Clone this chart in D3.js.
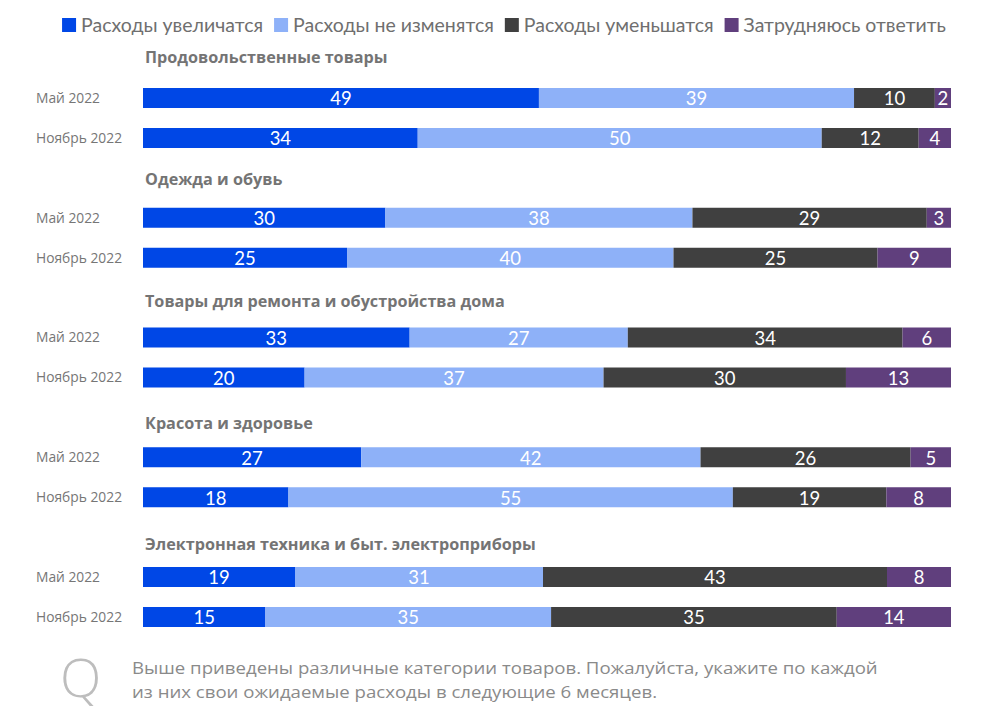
<!DOCTYPE html>
<html lang="ru">
<head>
<meta charset="UTF-8"/>
<title>Ожидаемые расходы</title>
<script src="https://d3js.org/d3.v7.min.js"></script>
<style>
	body{ margin:0; background:#fff; }
	.val{ font-family: Lato, "Open Sans", sans-serif; font-size:18.5px; fill:#fff; }
	.leg{ font-family: Lato, "Open Sans", sans-serif; font-size:19.5px; fill:#6f6f6f; }
	.cat{ font-family: "Open Sans", "Noto Sans", sans-serif; font-size:16.2px; font-weight:700; fill:#747474; }
	.row{ font-family: "Open Sans", "Noto Sans", sans-serif; font-size:13.8px; fill:#767676; }
	.note{ font-family: "Open Sans", sans-serif; font-size:17px; fill:#8a8a8a; }
</style>
</head>
<body>
<script>
// data
var series = ["Расходы увеличатся", "Расходы не изменятся", "Расходы уменьшатся", "Затрудняюсь ответить"];
var colors = ["#0047e6", "#8eb1f8", "#404040", "#603f7d"];
var categories = ["Продовольственные товары", "Одежда и обувь", "Товары для ремонта и обустройства дома",
	"Красота и здоровье", "Электронная техника и быт. электроприборы"];
var periods = ["Май 2022", "Ноябрь 2022"];
// values[category][period] = [увеличатся, не изменятся, уменьшатся, затрудняюсь]
var values = [
	[[49, 39, 10, 2], [34, 50, 12, 4]],
	[[30, 38, 29, 3], [25, 40, 25, 9]],
	[[33, 27, 34, 6], [20, 37, 30, 13]],
	[[27, 42, 26, 5], [18, 55, 19, 8]],
	[[19, 31, 43, 8], [15, 35, 35, 14]]
];
var noteLines = ["Выше приведены различные категории товаров. Пожалуйста, укажите по каждой",
	"из них свои ожидаемые расходы в следующие 6 месяцев."];

var w = 993, h = 717;
var barLeft = 143, barRight = 951, barH = 20;

var svg = d3.select("body").append("svg")
	.attr("width", w).attr("height", h);

// legend
var legend = svg.append("g");
var lx = 0;
series.forEach(function(s, i){
	var g = legend.append("g").attr("transform", "translate(" + lx + ",0)");
	g.append("rect").attr("x", 0).attr("y", -7).attr("width", 14).attr("height", 14).attr("fill", colors[i]);
	var t = g.append("text").attr("class", "leg").attr("x", 19).attr("y", 0).attr("dy", "0.35em").text(s);
	lx += 19 + t.node().getComputedTextLength() + 11;
});
var legW = lx - 11;
legend.attr("transform", "translate(" + (504 - legW / 2) + ",25)");

// row positions
var groupY = d3.scaleLinear().domain([0, categories.length - 1]).range([98, 577]);
var rowStep = 40;

categories.forEach(function(cat, ci){
	var y0 = groupY(ci);
	svg.append("text").attr("class", "cat")
		.attr("x", 145).attr("y", y0 - 41 + ci * 2.2)
		.attr("dy", "0.35em").text(cat);

	periods.forEach(function(p, pi){
		var yc = y0 + pi * rowStep;
		var vals = values[ci][pi];
		var total = d3.sum(vals);
		var x = d3.scaleLinear().domain([0, total]).range([barLeft, barRight]);
		svg.append("text").attr("class", "row")
			.attr("x", 36).attr("y", yc).attr("dy", "0.35em").text(p);

		var cum = 0;
		var segs = vals.map(function(v, i){
			var s = { v: v, i: i, a: cum, b: cum + v };
			cum += v;
			return s;
		});
		var g = svg.append("g");
		g.selectAll("rect").data(segs).enter().append("rect")
			.attr("x", function(d){ return x(d.a); })
			.attr("width", function(d){ return x(d.b) - x(d.a); })
			.attr("y", yc - barH / 2).attr("height", barH)
			.attr("fill", function(d){ return colors[d.i]; });
		g.selectAll("text").data(segs).enter().append("text")
			.attr("class", "val")
			.attr("x", function(d){ return (x(d.a) + x(d.b)) / 2; })
			.attr("y", yc + 1).attr("dy", "0.35em")
			.attr("text-anchor", "middle")
			.text(function(d){ return d.v; });
	});
});

// note
svg.append("text").attr("x", 60).attr("y", 697)
	.style("font-family", "'Open Sans', sans-serif").style("font-size", "54px")
	.style("font-weight", "300").style("fill", "#bdbdbd").text("Q");
// squeeze/stretch the first line to the reference width, same factor for the second
var noteTarget = 746;
var sx = 1;
noteLines.forEach(function(l, i){
	var t = svg.append("text").attr("class", "note")
		.attr("x", 0).attr("y", 0).attr("dy", "0.35em").text(l);
	if (i === 0) sx = noteTarget / t.node().getComputedTextLength();
	t.attr("transform", "translate(132," + (668 + i * 24) + ") scale(" + sx + ",1)");
});
</script>
</body>
</html>
